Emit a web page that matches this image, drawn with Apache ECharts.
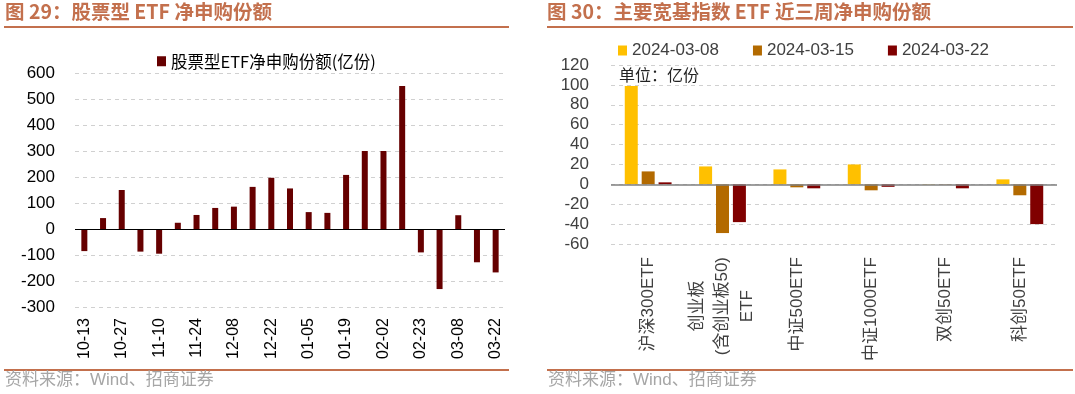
<!DOCTYPE html>
<html><head><meta charset="utf-8">
<script src="https://cdn.jsdelivr.net/npm/echarts@6/dist/echarts.min.js"></script>
<style>html,body{margin:0;padding:0;background:#fff}#c{width:1075px;height:394px}</style>
</head><body><div id="c"></div>
<script>
// Left chart data
const leftDates = ['10-13','10-20','10-27','11-03','11-10','11-17','11-24','12-01','12-08','12-15','12-22','12-29','01-05','01-12','01-19','01-26','02-02','02-09','02-23','03-01','03-08','03-15','03-22'];
const leftValues = [-85,42,150,-87,-95,24,54,81,86,162,197,156,65,62,208,300,300,550,-90,-231,53,-128,-167];
const leftSeriesName = '股票型ETF净申购份额(亿份)';
// Right chart data
const rightCategories = ['沪深300ETF','创业板\n(含创业板50)\nETF','中证500ETF','中证1000ETF','双创50ETF','科创50ETF'];
const rightNames = ['2024-03-08','2024-03-15','2024-03-22'];
const w0308 = [99,18,15,20,0.3,5];
const w0315 = [13,-49,-3,-6,-0.3,-11];
const w0322 = [2,-38,-4,-2.5,-4,-40];

const FONT = '"Liberation Sans","Noto Sans CJK SC",sans-serif';
const CJK = '"Noto Sans CJK SC",sans-serif';
const TITLE_C = '#C3704D';

const chart = echarts.init(document.getElementById('c'), null, {renderer:'canvas'});
chart.setOption({
  animation:false,
  backgroundColor:'#fff',
  textStyle:{fontFamily:FONT},
  graphic:[
    {type:'text', left:5, top:2, style:{text:'图 29：股票型 ETF 净申购份额', font:'bold 19.5px "Noto Sans CJK SC"', fill:TITLE_C}},
    {type:'rect', shape:{x:4, y:26, width:505, height:2}, style:{fill:TITLE_C}},
    {type:'text', left:547, top:2, style:{text:'图 30：主要宽基指数 ETF 近三周净申购份额', font:'bold 19.5px "Noto Sans CJK SC"', fill:TITLE_C}},
    {type:'rect', shape:{x:547, y:26, width:526, height:2}, style:{fill:TITLE_C}},
    {type:'rect', shape:{x:4, y:369, width:505, height:2}, style:{fill:TITLE_C}},
    {type:'rect', shape:{x:547, y:369, width:526, height:2}, style:{fill:TITLE_C}},
    {type:'text', left:5, top:372, style:{text:'资料来源：Wind、招商证券', font:'17px "Liberation Sans","Noto Sans CJK SC"', fill:'#A6A6A6'}},
    {type:'text', left:548, top:372, style:{text:'资料来源：Wind、招商证券', font:'17px "Liberation Sans","Noto Sans CJK SC"', fill:'#A6A6A6'}},
    {type:'text', left:619, top:67, style:{text:'单位：亿份', font:'16px "Noto Sans CJK SC"', fill:'#222'}}
  ],
  legend:[
    {data:[leftSeriesName], left:152, top:48, itemWidth:9, itemHeight:10, icon:'rect',
     textStyle:{fontSize:16.5, color:'#000', fontFamily:CJK}},
    {data:rightNames, left:613, top:37, itemWidth:9, itemHeight:10, itemGap:34, icon:'rect',
     textStyle:{fontSize:17, color:'#404040', fontFamily:FONT}}
  ],
  grid:[
    {left:75, top:73, width:430, height:234},
    {left:611, top:65, width:446, height:179}
  ],
  xAxis:[
    {type:'category', gridIndex:0, data:leftDates,
     axisLine:{show:false, onZero:false}, axisTick:{show:false},
     axisLabel:{rotate:90, interval:1, fontSize:16, color:'#000', margin:11}},
    {type:'category', gridIndex:1, data:rightCategories,
     axisLine:{show:false, onZero:false}, axisTick:{show:false},
     axisLabel:{rotate:90, interval:0, margin:13,
       formatter:v=>v.split('\n').map(s=>'{c|'+s+'}').join('\n'),
       rich:{c:{fontSize:17, color:'#404040', align:'center', lineHeight:25, fontFamily:FONT}}}}
  ],
  yAxis:[
    {type:'value', gridIndex:0, min:-300, max:600, interval:100,
     axisLine:{show:false}, axisTick:{show:false},
     axisLabel:{fontSize:17, color:'#000', margin:20},
     splitLine:{lineStyle:{type:[4,4], color:'#D0D0D0'}}},
    {type:'value', gridIndex:1, min:-60, max:120, interval:20,
     axisLine:{show:false}, axisTick:{show:false},
     axisLabel:{fontSize:17, color:'#404040', margin:22},
     splitLine:{lineStyle:{type:[4,4], color:'#D0D0D0'}}}
  ],
  series:[
    {name:leftSeriesName, type:'bar', xAxisIndex:0, yAxisIndex:0, data:leftValues, barWidth:6,
     itemStyle:{color:'#660000'},
     markLine:{silent:true, symbol:'none', label:{show:false}, animation:false,
       lineStyle:{color:'#000', type:'solid', width:1}, data:[{yAxis:0}]}},
    {name:rightNames[0], type:'bar', xAxisIndex:1, yAxisIndex:1, data:w0308, barWidth:13, barGap:'30%',
     itemStyle:{color:'#FFC000'},
     markLine:{silent:true, symbol:'none', label:{show:false}, animation:false,
       lineStyle:{color:'#7F7F7F', type:'solid', width:1.5}, data:[{yAxis:0}]}},
    {name:rightNames[1], type:'bar', xAxisIndex:1, yAxisIndex:1, data:w0315, barWidth:13, barGap:'30%',
     itemStyle:{color:'#B36A00'}},
    {name:rightNames[2], type:'bar', xAxisIndex:1, yAxisIndex:1, data:w0322, barWidth:13, barGap:'30%',
     itemStyle:{color:'#800000'}}
  ]
});
</script></body></html>
